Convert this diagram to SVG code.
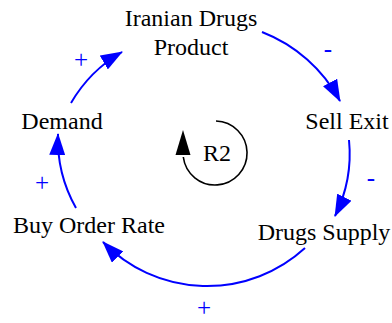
<svg xmlns="http://www.w3.org/2000/svg" width="392" height="323" viewBox="0 0 392 323">
<style>
.link{fill:none;stroke:#0000ff;stroke-width:2}
.lbl{font-family:'Liberation Serif','Times New Roman',serif;font-size:24px;fill:#000;text-anchor:middle}
.pol{font-family:'Liberation Serif','Times New Roman',serif;font-size:25px;fill:#0000ff;text-anchor:middle}
</style>
<defs>
<marker id="ah" markerUnits="userSpaceOnUse" viewBox="0 0 22 16" refX="21" refY="8" markerWidth="22" markerHeight="16" orient="auto">
<path d="M0,0 L22,8 L0,16 z" fill="#0000ff"/>
</marker>
</defs>
<rect width="392" height="323" fill="#fff"/>
<g id="connectors">
<path class="link" d="M262,32 A150,150 0 0,1 340,101" marker-end="url(#ah)"/>
<path class="link" d="M349,140 A140,140 0 0,1 335,216" marker-end="url(#ah)"/>
<path class="link" d="M305,248 A145,145 0 0,1 103,242" marker-end="url(#ah)"/>
<path class="link" d="M76,208 A140,140 0 0,1 58,134" marker-end="url(#ah)"/>
<path class="link" d="M71,103 A140,140 0 0,1 122,52" marker-end="url(#ah)"/>
<text class="pol" x="328" y="57">-</text>
<text class="pol" x="371" y="186">-</text>
<text class="pol" x="204" y="316">+</text>
<text class="pol" x="42" y="191">+</text>
<text class="pol" x="81" y="68">+</text>
</g>
<g id="loop">
<path d="M216,121 A32,32 0 1,1 183.3,157" fill="none" stroke="#000" stroke-width="1.6"/>
<path d="M183,130 L190.5,155 L175.5,155 z" fill="#000"/>
<text class="lbl" x="217" y="161">R2</text>
</g>
<g id="iranian"><text class="lbl" x="191" y="26">Iranian Drugs</text><text class="lbl" x="191" y="55">Product</text></g>
<g id="sell"><text class="lbl" x="347" y="129">Sell Exit</text></g>
<g id="supply"><text class="lbl" x="324" y="240">Drugs Supply</text></g>
<g id="buy"><text class="lbl" x="89" y="233">Buy Order Rate</text></g>
<g id="demand"><text class="lbl" x="62" y="129">Demand</text></g>
</svg>
